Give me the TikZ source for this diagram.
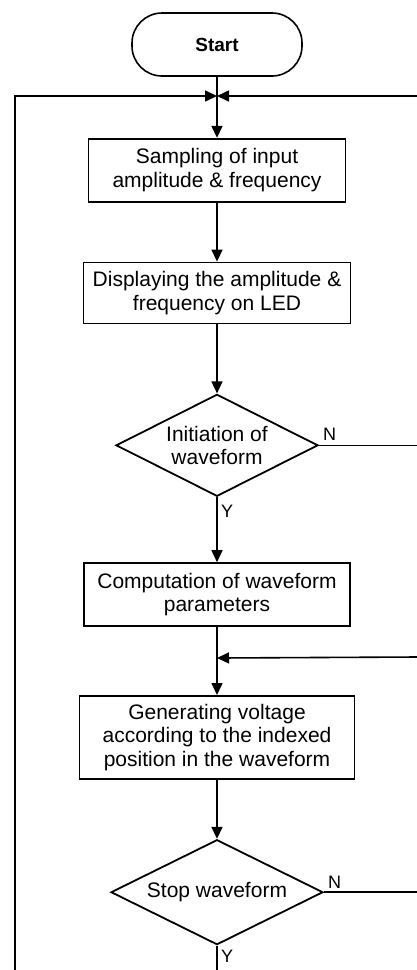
\documentclass[tikz,border=0pt]{standalone}
\usepackage{fontspec}
\setmainfont{Liberation Sans}
\usetikzlibrary{arrows.meta, positioning, shapes.geometric, calc}

\tikzset{
  term/.style={draw, line width=1.6pt, rounded corners=30pt,
               minimum width=170pt, minimum height=63pt,
               font=\fontsize{19}{22}\selectfont\bfseries},
  procbox/.style={draw, line width=1.8pt, inner sep=3pt, align=center,
                  minimum height=63pt,
                  font=\fontsize{21}{23.5}\selectfont},
  decision/.style={draw, diamond, line width=1.8pt, inner sep=0pt,
                   aspect=2, align=center,
                   font=\fontsize{21}{23.5}\selectfont},
  lbl/.style={inner sep=0pt, font=\fontsize{18}{20}\selectfont},
  flow/.style={line width=1.6pt},
  tip/.style={-{Triangle[length=12pt, width=11pt]}}
}

\begin{document}
\begin{tikzpicture}[x=1pt, y=-1pt, node distance=60pt]
  \useasboundingbox (0,0) rectangle (417,970);

  \node[term] (start) at (217,44.5) {Start};
  \node[procbox, minimum width=257pt, below=61pt of start] (sample)
    {Sampling of input\\amplitude \& frequency};
  \node[procbox, minimum width=267pt, minimum height=61pt,
        below=59pt of sample] (display)
    {Displaying the amplitude \&\\frequency on LED};
  \node[decision, minimum width=202pt, minimum height=102pt,
        below=69pt of display] (init)
    {Initiation of\\waveform};
  \node[procbox, minimum width=266pt, below=65pt of init] (compute)
    {Computation of waveform\\parameters};
  \node[procbox, minimum width=275pt, minimum height=83pt,
        below=68pt of compute] (generate)
    {Generating voltage\\according to the indexed\\position in the waveform};
  \node[decision, minimum width=212pt, minimum height=105pt,
        below=59pt of generate] (stopwf)
    {Stop waveform};

  % yes / no labels
  \node[lbl, above right=5pt and 4pt of init.east] (initN) {N};
  \node[lbl, below right=8pt and 4pt of init.south] (initY) {Y};
  \node[lbl, above right=4pt and 4pt of stopwf.east] (stopN) {N};
  \node[lbl, below right=4pt and 4pt of stopwf.south] (stopY) {Y};

  % loop points
  \coordinate (join1) at (start.south |- 0,96);
  \coordinate (topleft) at (15,96);
  \coordinate (topright) at (417,96);
  \coordinate (botleft) at (15,970);
  \coordinate (join2) at ($(compute.south)!0.456!(generate.north)$);
  \coordinate (right2) at (417,657);
  \coordinate (initout) at (init.east -| 417,0);
  \coordinate (stopout) at (stopwf.east -| 417,0);
  \coordinate (stopbot) at (stopwf.south |- 0,970);

  \draw[flow, tip] (start) -- (sample);
  \draw[flow, tip] (botleft) -- (topleft) -- (join1);
  \draw[flow, tip] (topright) -- (join1);
  \draw[flow, tip] (sample) -- (display);
  \draw[flow, tip] (display) -- (init);
  \draw[flow] (init.east) -- (initout);
  \draw[flow, tip] (init.south) -- (compute);
  \draw[flow, tip] (compute) -- (generate);
  \draw[flow, tip] (right2) -- (join2);
  \draw[flow, tip] (generate) -- (stopwf.north);
  \draw[flow] (stopwf.east) -- (stopout);
  \draw[flow] (stopwf.south) -- (stopbot);
\end{tikzpicture}
\end{document}
